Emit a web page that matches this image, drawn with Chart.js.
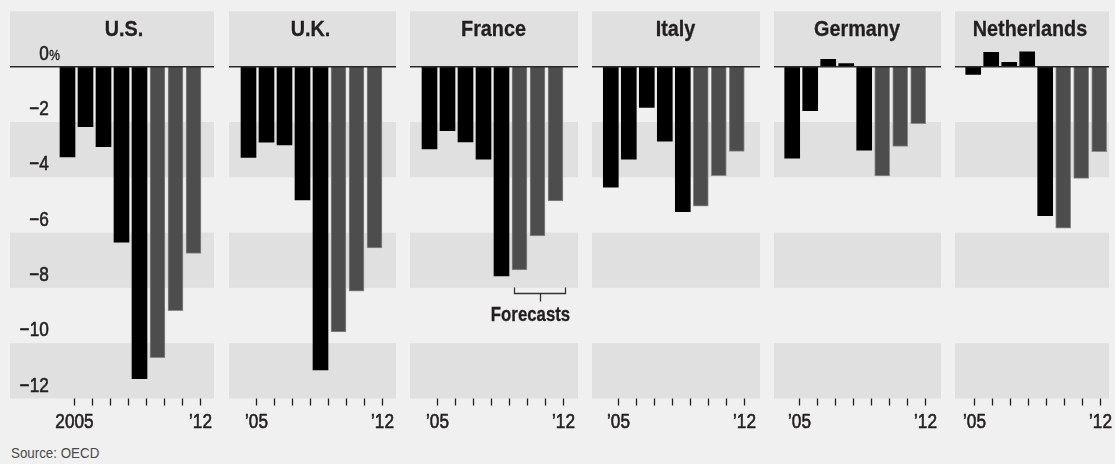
<!DOCTYPE html>
<html><head><meta charset="utf-8">
<script src="https://cdn.jsdelivr.net/npm/chart.js@4"></script>
<style>
html,body{margin:0;padding:0;background:#f0f0f0;}
#wrap{position:relative;width:1115px;height:464px;background:#f0f0f0;overflow:hidden;}
#wrap canvas{position:absolute;left:0;top:0;}
#source{position:absolute;left:11px;top:444px;font:15px "Liberation Sans",Arial,sans-serif;color:#4a4a4a;transform:scaleX(0.89);transform-origin:0 0;white-space:nowrap;}
</style></head><body>
<div id="wrap"><div id="source">Source: OECD</div></div>
<script>
// ---- data ----
const years = ['2005','2006','2007','2008','2009','2010','2011','2012'];
const forecastStart = '2010';
const countries = ['U.S.','U.K.','France','Italy','Germany','Netherlands'];
const usValues          = [-3.26, -2.17, -2.89, -6.35, -11.28, -10.52, -8.82, -6.75];
const ukValues          = [-3.28, -2.73, -2.83, -4.82, -10.97, -9.59, -8.12, -6.55];
const franceValues      = [-2.97, -2.31, -2.72, -3.34, -7.57, -7.35, -6.12, -4.85];
const italyValues       = [-4.36, -3.34, -1.47, -2.69, -5.24, -5.04, -3.94, -3.06];
const germanyValues     = [-3.31, -1.59, 0.27, 0.11, -3.02, -3.95, -2.88, -2.06];
const netherlandsValues = [-0.28, 0.52, 0.16, 0.54, -5.39, -5.84, -4.04, -3.07];
const yTickValues = [0, -2, -4, -6, -8, -10, -12];
const yTickLabels = ['0', '\u22122', '\u22124', '\u22126', '\u22128', '\u221210', '\u221212'];
const yUnit = '%';
const usXLabels    = ['2005', '', '', '', '', '', '', '\u201912'];
const otherXLabels = ['\u201905', '', '', '', '', '', '', '\u201912'];
const forecastNote = 'Forecasts';

// ---- style / layout ----
const W = 1115, H = 464;
const FONT = '"Liberation Sans",Arial,sans-serif';
const TEXT = '#231f20';
const BAR_STEP = 18, BAR_W = 15;
const PLOT_TOP = 11.4, PLOT_BOTTOM = 398.5;
const Y_MIN = -12, Y_MAX = 2;
const bandRanges = [[2, 0], [-2, -4], [-6, -8], [-10, -12]];

const panels = [
  {name: countries[0], values: usValues,          bandLeft: 10,  bandRight: 214,  catLeft: 58.5,  titleX: 124,    tickOffset: 6.5, xLabels: usXLabels,    yLabels: true},
  {name: countries[1], values: ukValues,          bandLeft: 229, bandRight: 396,  catLeft: 239.5, titleX: 310.5,  tickOffset: 7.2, xLabels: otherXLabels},
  {name: countries[2], values: franceValues,      bandLeft: 410, bandRight: 578,  catLeft: 420.5, titleX: 493.5,  tickOffset: 7.2, xLabels: otherXLabels, note: true},
  {name: countries[3], values: italyValues,       bandLeft: 592, bandRight: 760,  catLeft: 601.8, titleX: 675.5,  tickOffset: 6.9, xLabels: otherXLabels},
  {name: countries[4], values: germanyValues,     bandLeft: 774, bandRight: 941,  catLeft: 783.2, titleX: 857,    tickOffset: 7.1, xLabels: otherXLabels},
  {name: countries[5], values: netherlandsValues, bandLeft: 955, bandRight: 1109, catLeft: 964.2, titleX: 1030,   tickOffset: 0.3, xLabels: otherXLabels}
];

function drawText(ctx, text, x, y, align, font, sx, stroke) {
  ctx.save();
  ctx.translate(x, y);
  ctx.scale(sx, 1);
  ctx.font = font;
  ctx.textAlign = align;
  ctx.textBaseline = 'alphabetic';
  ctx.fillText(text, 0, 0);
  if (stroke) {
    ctx.strokeStyle = ctx.fillStyle;
    ctx.lineWidth = stroke;
    ctx.lineJoin = 'round';
    ctx.strokeText(text, 0, 0);
  }
  ctx.restore();
}

const panelPlugin = {
  id: 'panel',
  beforeDatasetsDraw(chart, args, opts) {
    const ctx = chart.ctx, y = chart.scales.y, p = opts.panel;
    ctx.save();
    ctx.fillStyle = '#e0e0e0';
    bandRanges.forEach(([a, b]) => {
      const y1 = y.getPixelForValue(a), y2 = y.getPixelForValue(b);
      ctx.fillRect(p.bandLeft, y1, p.bandRight - p.bandLeft, y2 - y1);
    });
    ctx.fillStyle = TEXT;
    drawText(ctx, p.name, p.titleX, y.top + 24.8, 'center', 'bold 22px ' + FONT, 0.9, 0.3);
    if (p.yLabels) {
      yTickValues.forEach((v, i) => {
        const py = y.getPixelForValue(v) - 7;
        drawText(ctx, yTickLabels[i], 48.8, py, 'right', '20px ' + FONT, 0.86, 0.6);
        if (v === 0) drawText(ctx, yUnit, 49.3, py, 'left', '14px ' + FONT, 0.86, 0.4);
      });
    }
    ctx.restore();
  },
  afterDatasetsDraw(chart, args, opts) {
    const ctx = chart.ctx, y = chart.scales.y, x = chart.scales.x, p = opts.panel;
    ctx.save();
    const y0 = y.getPixelForValue(0);
    ctx.strokeStyle = '#2a2a2a';
    ctx.lineWidth = 1.5;
    ctx.beginPath();
    ctx.moveTo(p.bandLeft, y0);
    ctx.lineTo(p.bandRight, y0);
    ctx.stroke();
    // x ticks and labels
    const yb = y.getPixelForValue(Y_MIN);
    ctx.lineWidth = 1.3;
    ctx.strokeStyle = TEXT;
    ctx.fillStyle = TEXT;
    years.forEach((yr, i) => {
      const px = Math.round(x.getPixelForValue(i) + p.tickOffset) + 0.5;
      ctx.beginPath();
      ctx.moveTo(px, yb);
      ctx.lineTo(px, yb + 7);
      ctx.stroke();
      if (p.xLabels[i]) drawText(ctx, p.xLabels[i], px, yb + 29.5, 'center', '20px ' + FONT, 0.86, 0.6);
    });
    if (p.note) {
      const first = years.indexOf(forecastStart), last = years.length - 1;
      const bl = x.getPixelForValue(first) - 5, br = x.getPixelForValue(last) + 10;
      const by = Math.round(y.getPixelForValue(-8.2)) + 0.5;
      const bc = Math.round((bl + br) / 2) + 0.5;
      ctx.strokeStyle = '#333';
      ctx.lineWidth = 1.3;
      ctx.beginPath();
      ctx.moveTo(bl, by - 6); ctx.lineTo(bl, by); ctx.lineTo(br, by); ctx.lineTo(br, by - 6);
      ctx.moveTo(bc, by); ctx.lineTo(bc, by + 8);
      ctx.stroke();
      drawText(ctx, forecastNote, bc - 10, by + 27, 'center', 'bold 21px ' + FONT, 0.8, 0.3);
    }
    ctx.restore();
  }
};

const wrap = document.getElementById('wrap');
panels.forEach(p => {
  const c = document.createElement('canvas');
  c.width = W; c.height = H;
  c.style.width = W + 'px'; c.style.height = H + 'px';
  wrap.appendChild(c);
  const isFc = years.map(yr => Number(yr) >= Number(forecastStart));
  new Chart(c, {
    type: 'bar',
    data: {
      labels: years,
      datasets: [{
        data: p.values,
        backgroundColor: isFc.map(f => f ? '#4d4d4d' : '#000000'),
        borderColor: isFc.map(f => f ? '#8a8a8a' : '#000000'),
        borderWidth: isFc.map(f => f ? 1 : 0),
        borderSkipped: 'start',
        barThickness: BAR_W
      }]
    },
    options: {
      responsive: false,
      animation: false,
      events: [],
      layout: {padding: {left: p.catLeft, right: W - (p.catLeft + years.length * BAR_STEP), top: PLOT_TOP, bottom: H - PLOT_BOTTOM}},
      plugins: {legend: {display: false}, tooltip: {enabled: false}, panel: {panel: p}},
      scales: {
        x: {display: false, offset: true},
        y: {display: false, min: Y_MIN, max: Y_MAX}
      }
    },
    plugins: [panelPlugin]
  });
});
</script>
</body></html>
